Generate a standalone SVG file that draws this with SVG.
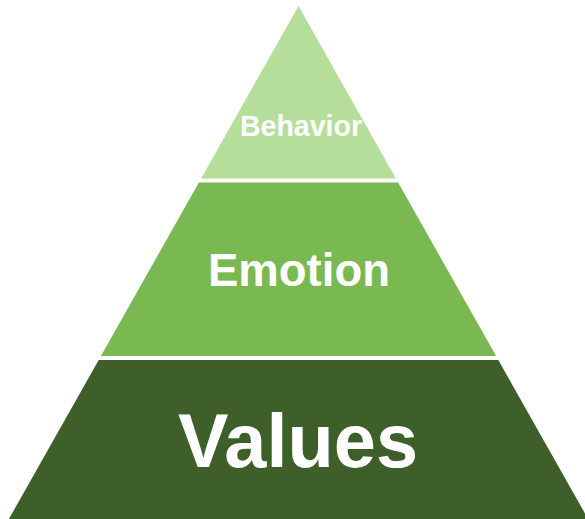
<svg xmlns="http://www.w3.org/2000/svg" width="585" height="519" viewBox="0 0 585 519">
  <style>
    .lbl { font-family: "Liberation Sans", Arial, sans-serif; font-weight: bold; fill: #ffffff; text-anchor: middle; }
  </style>
  <rect x="0" y="0" width="585" height="519" fill="#ffffff"/>
  <g id="values">
    <polygon points="98.7,360 498.3,360 588.1,519 8.9,519" fill="#3E5F2A"/>
    <text class="lbl" x="298" y="467" font-size="76" textLength="240" lengthAdjust="spacingAndGlyphs">Values</text>
  </g>
  <g id="emotion">
    <polygon points="198.9,182.5 398.1,182.5 496.1,356 100.9,356" fill="#7AB852"/>
    <text class="lbl" x="299" y="286" font-size="46" textLength="182" lengthAdjust="spacingAndGlyphs">Emotion</text>
  </g>
  <g id="behavior">
    <polygon points="298.5,6 395.9,178.5 201.1,178.5" fill="#B5DE9A"/>
    <text class="lbl" x="301" y="136" font-size="30" textLength="122" lengthAdjust="spacingAndGlyphs">Behavior</text>
  </g>
  <g id="connectors"/>
</svg>
